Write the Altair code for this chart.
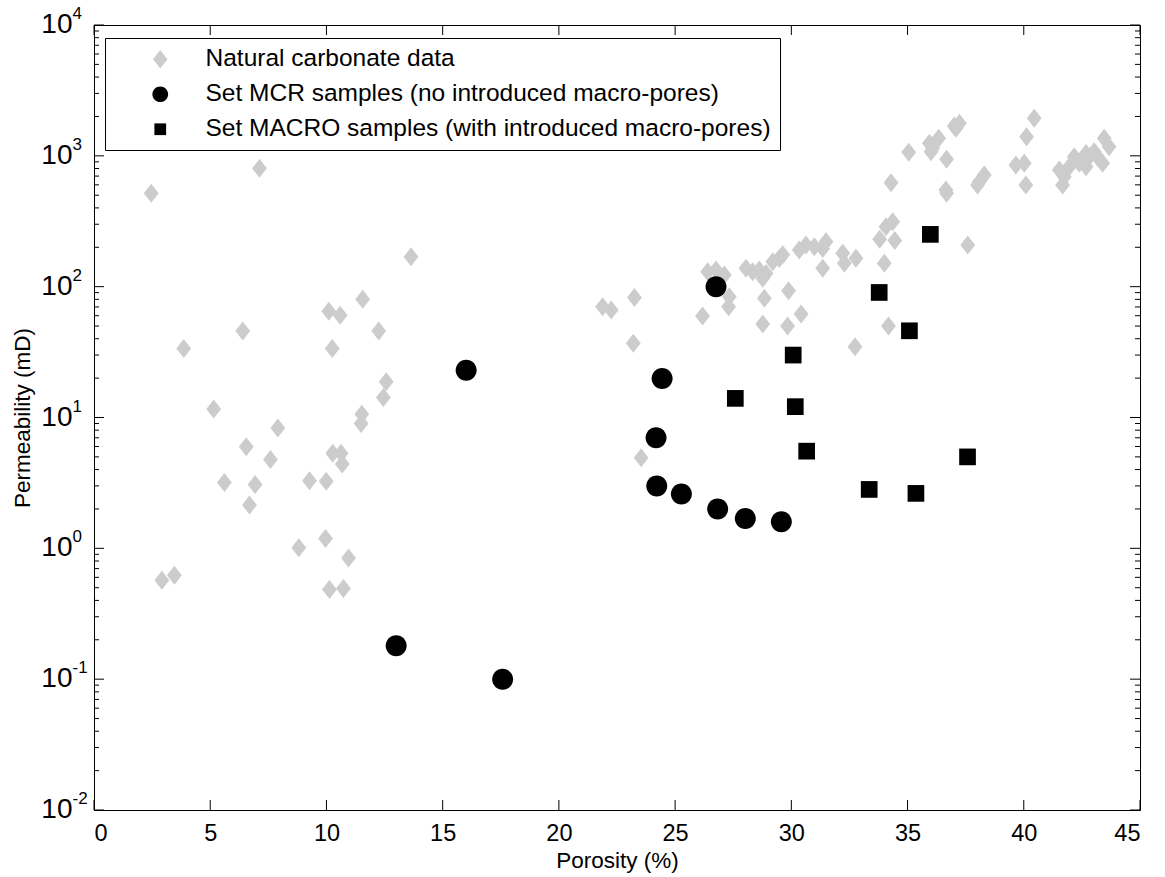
import altair as alt
import pandas as pd

# ---------------- data ----------------
series_names = [
    "Natural carbonate data",
    "Set MCR samples (no introduced macro-pores)",
    "Set MACRO samples (with introduced macro-pores)",
]

nat_por = [2.46, 7.12, 13.64, 11.56, 10.10, 10.59, 6.40, 12.25, 3.86, 10.25, 12.57, 12.45, 5.15, 11.52, 11.49,
           7.91, 6.55, 7.59, 10.27, 10.63, 10.68,
           5.61, 6.93, 6.69, 9.27, 9.99, 9.96, 8.81, 10.95, 3.46, 2.92, 10.13, 10.73,
           23.25, 21.88, 22.25, 23.20, 23.54, 26.18, 26.40, 26.76, 27.12, 27.33, 27.30, 28.05, 28.34, 28.62,
           28.91, 29.20, 29.48, 29.63, 28.77, 28.84, 29.88, 28.77, 29.84, 30.42, 30.34, 30.63, 30.99, 31.35,
           31.49, 31.35, 32.21, 32.78, 32.28, 34.00, 34.18, 32.74, 33.80, 34.45,
           35.05, 35.94, 36.08, 36.34, 36.01, 37.08, 37.23, 37.01, 36.68, 36.65, 36.68, 34.29, 34.07, 34.36,
           37.59, 38.09, 38.30, 38.01, 39.66, 40.02, 40.09, 40.12, 40.45,
           41.53, 41.74, 41.67, 41.96, 42.17, 42.39, 42.68, 42.82, 43.03, 43.17, 43.39, 43.46, 43.67, 42.68]
nat_perm = [517, 802, 169, 80, 65, 60.6, 45.8, 45.8, 33.7, 33.7, 18.8, 14.2, 11.6, 10.6, 9.0,
            8.3, 5.97, 4.78, 5.32, 5.32, 4.41,
            3.19, 3.08, 2.14, 3.28, 3.26, 1.19, 1.01, 0.845, 0.623, 0.571, 0.485, 0.493,
            82.8, 70.2, 66.2, 36.9, 4.92, 59.6, 130, 134, 123, 83.8, 70.2, 138, 130, 134,
            126, 155, 164, 175, 116, 81.5, 93, 51.8, 50, 61.7, 191, 208, 202, 196,
            220, 138, 180, 165, 151, 151, 50, 34.7, 230, 225,
            1064, 1247, 1141, 1362, 1074, 1622, 1772, 1689, 943, 548, 517, 622, 287, 314,
            208, 633, 713, 598, 851, 877, 598, 1400, 1935,
            778, 692, 598, 826, 984, 877, 1044, 984, 1074, 984, 877, 1362, 1175, 826]

mcr_por = [13.00, 17.58, 16.01, 24.44, 26.76, 24.18, 24.21, 25.27, 26.83, 28.02, 29.57]
mcr_perm = [0.18, 0.10, 23, 19.9, 100, 7.0, 2.99, 2.6, 2.0, 1.69, 1.60]

macro_por = [35.98, 33.78, 35.08, 30.08, 27.59, 30.17, 30.66, 37.58, 33.35, 35.36]
macro_perm = [251, 90.3, 46, 30, 14, 12.1, 5.53, 5.0, 2.82, 2.63]

x_ticks = [0, 5, 10, 15, 20, 25, 30, 35, 40, 45]
y_major = [0.01, 0.1, 1, 10, 100, 1000, 10000]
y_exponents = ["-2", "-1", "0", "1", "2", "3", "4"]
y_minor = [m * d for d in [0.01, 0.1, 1, 10, 100, 1000] for m in range(2, 10)]

# ---------------- tables ----------------
df = pd.DataFrame({
    "porosity": nat_por + mcr_por + macro_por,
    "perm": nat_perm + mcr_perm + macro_perm,
    "series": [series_names[0]] * len(nat_por) + [series_names[1]] * len(mcr_por) + [series_names[2]] * len(macro_por),
})
xt_df = pd.DataFrame({"x": x_ticks})
ymaj_df = pd.DataFrame({"y": y_major, "exp": y_exponents, "base": ["10"] * len(y_major)})
ymin_df = pd.DataFrame({"y": y_minor})

W, H = 1046, 785
FONT = "Liberation Sans"
xscale = alt.Scale(domain=[0, 45], nice=False, zero=False)
yscale = alt.Scale(type="log", domain=[0.01, 10000], nice=False)

# marker outlines (unit coordinates; relative proportions as in the legend)
diamond = "M0,-1L0.78,0L0,1L-0.78,0Z"
circle = ("M0.84,0C0.84,0.4639,0.4639,0.84,0,0.84C-0.4639,0.84,-0.84,0.4639,-0.84,0"
          "C-0.84,-0.4639,-0.4639,-0.84,0,-0.84C0.4639,-0.84,0.84,-0.4639,0.84,0Z")
square = "M-0.626,-0.626L0.626,-0.626L0.626,0.626L-0.626,0.626Z"

legend = alt.Legend(
    title=None, orient="none", legendX=11, legendY=13,
    strokeColor="black", fillColor="white", padding=9,
    labelFont=FONT, labelFontSize=24.5, labelColor="black", labelLimit=1000,
    rowPadding=10, symbolSize=350, symbolOffset=34, labelOffset=33, symbolStrokeWidth=0,
)

size_expr = ("datum.series == 'Natural carbonate data' ? 361 : "
             "(datum.series == 'Set MCR samples (no introduced macro-pores)' ? 625 : 711)")

points = alt.Chart(df).transform_calculate(
    order_idx="datum.series == 'Natural carbonate data' ? 0 : 1",
    msize=size_expr,
).mark_point(filled=True, opacity=1, strokeWidth=0).encode(
    x=alt.X("porosity:Q", scale=xscale, axis=alt.Axis(
        values=x_ticks, ticks=False, domain=False, grid=False,
        labelFont=FONT, labelFontSize=23.5, labelColor="black", labelPadding=11,
        title="Porosity (%)", titleFont=FONT, titleFontSize=22.5, titleFontWeight="normal",
        titleColor="black", titleY=50, titleBaseline="middle")),
    y=alt.Y("perm:Q", scale=yscale, axis=alt.Axis(
        labels=False, ticks=False, domain=False, grid=False,
        title="Permeability (mD)", titleFont=FONT, titleFontSize=22.5, titleFontWeight="normal",
        titleColor="black", titleX=-72, titleY=H / 2, titleAngle=-90,
        titleBaseline="middle", titleAlign="center")),
    shape=alt.Shape("series:N", scale=alt.Scale(domain=series_names, range=[diamond, circle, square]), legend=legend),
    color=alt.Color("series:N", scale=alt.Scale(domain=series_names, range=["#cccccc", "#000000", "#000000"]), legend=legend),
    size=alt.Size("msize:Q", scale=None, legend=None),
    order=alt.Order("order_idx:Q"),
)

tick_style = dict(color="black", strokeWidth=1)
xt_bottom = alt.Chart(xt_df).mark_rule(**tick_style).encode(
    x=alt.X("x:Q", scale=xscale), y=alt.value(H), y2=alt.value(H - 10))
xt_top = alt.Chart(xt_df).mark_rule(**tick_style).encode(
    x=alt.X("x:Q", scale=xscale), y=alt.value(0), y2=alt.value(10))
ymaj_left = alt.Chart(ymaj_df).mark_rule(**tick_style).encode(
    y=alt.Y("y:Q", scale=yscale), x=alt.value(0), x2=alt.value(10))
ymaj_right = alt.Chart(ymaj_df).mark_rule(**tick_style).encode(
    y=alt.Y("y:Q", scale=yscale), x=alt.value(W), x2=alt.value(W - 10))
ymin_left = alt.Chart(ymin_df).mark_rule(**tick_style).encode(
    y=alt.Y("y:Q", scale=yscale), x=alt.value(0), x2=alt.value(5))
ymin_right = alt.Chart(ymin_df).mark_rule(**tick_style).encode(
    y=alt.Y("y:Q", scale=yscale), x=alt.value(W), x2=alt.value(W - 5))

ylab_base = alt.Chart(ymaj_df).mark_text(
    font=FONT, fontSize=28, align="right", baseline="middle", color="black").encode(
    y=alt.Y("y:Q", scale=yscale), x=alt.value(-21.5), text="base:N")
ylab_exp = alt.Chart(ymaj_df).mark_text(
    font=FONT, fontSize=17, align="left", baseline="middle", color="black", dy=-11).encode(
    y=alt.Y("y:Q", scale=yscale), x=alt.value(-21.5), text="exp:N")

chart = alt.layer(
    points, xt_bottom, xt_top, ymaj_left, ymaj_right, ymin_left, ymin_right, ylab_base, ylab_exp
).properties(
    width=W, height=H,
    padding={"left": 94, "top": 25, "right": 25, "bottom": 67},
    autosize=alt.AutoSizeParams(type="none"),
    background="white",
).configure_view(stroke="black", strokeWidth=1)

chart.save("out.html", embed_options={"renderer": "svg", "actions": False})
